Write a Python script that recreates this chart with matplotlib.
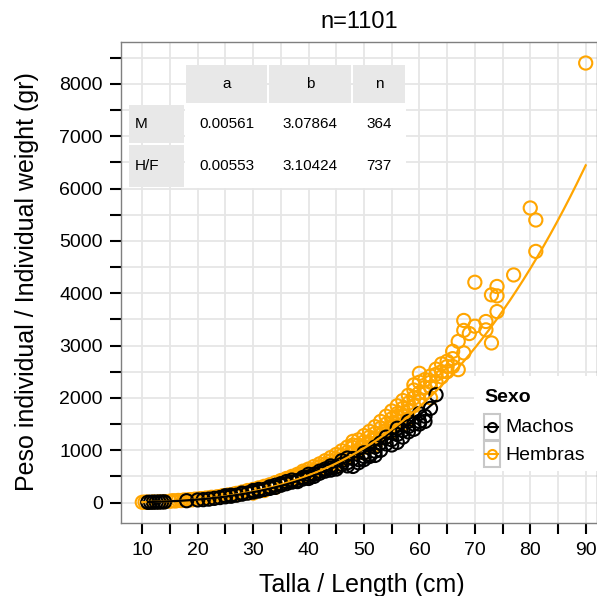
import numpy as np
import matplotlib
matplotlib.use("Agg")
import matplotlib.pyplot as plt
from matplotlib.patches import Rectangle
from matplotlib.lines import Line2D

plt.rcParams['font.family'] = ['Liberation Sans', 'DejaVu Sans']

# fitted W = a * L^b parameters (from the inset table)
grupos = ["M", "H/F"]
param_a = [0.00561, 0.00553]
param_b = [3.07864, 3.10424]
param_n = [364, 737]

# females (Hembras): length (cm), weight (gr)
hembras_talla = [10, 10.5, 11, 12, 13, 14, 15, 16, 17, 18, 19, 20, 21, 22, 23, 24, 25, 26,
                 27, 27, 28, 29, 29, 30, 30, 31, 31, 32, 32, 33, 33, 34, 34, 35, 35, 36, 36,
                 37, 37, 38, 38, 39, 39, 40, 40, 40, 41, 41, 42, 42, 43, 43, 44, 44, 45, 45,
                 45, 46, 46, 47, 47, 48, 48, 48, 49, 49, 50, 50, 50, 51, 51, 52, 52, 52, 53,
                 53, 54, 54, 54, 55, 55, 55, 56, 56, 56, 57, 57, 57, 58, 58, 58, 59, 59, 59,
                 60, 60, 60, 61, 61, 62, 62, 62, 63, 63, 64, 64, 65, 65, 66, 66, 67, 67, 68,
                 68, 68, 69, 70, 70, 72, 72, 73, 73, 74, 74, 74, 77, 80, 81, 81, 90,
                 28, 30, 32, 34, 35, 36, 37, 38, 39, 40, 41, 42, 43, 44, 45, 46, 47, 48,
                 49, 50, 51, 52, 53, 54, 55, 56, 57, 58, 59, 60, 61, 62, 63, 64, 65, 66,
                 27.5, 29.5, 31.5, 33.5, 35.5, 37.5, 39.5, 41.5, 43.5, 45.5, 47.5, 49.5, 51.5, 53.5, 55.5,
                 15.5, 16.5, 17.5, 18.5, 19.5, 20.5, 21.5, 22.5, 23.5, 24.5, 25.5, 26.5]
hembras_peso = [5, 8, 9, 12, 15, 18, 25, 30, 38, 45, 52, 62, 72, 82, 95, 110, 125, 140,
                150, 175, 175, 190, 230, 210, 250, 240, 280, 260, 310, 290, 340, 320, 380, 350, 420, 390, 460,
                420, 500, 460, 540, 500, 600, 530, 640, 480, 580, 690, 620, 740, 670, 800, 720, 860, 760, 920,
                690, 820, 990, 880, 1060, 940, 1170, 1050, 1000, 1200, 1060, 1280, 950, 1130, 1360, 1200, 1450, 1100, 1290,
                1550, 1380, 1650, 1250, 1450, 1750, 1350, 1550, 1850, 1700, 1650, 1950, 1500, 1750, 2050, 1600, 1850, 2150, 2250,
                1950, 2300, 2470, 2100, 2350, 2200, 2420, 2000, 2300, 2550, 2400, 2650, 2500, 2700, 2600, 2890, 2540, 3080, 2860,
                3290, 3480, 3230, 3370, 4210, 3460, 3300, 3050, 3970, 3950, 4130, 3650, 4350, 5630, 5400, 4800, 8400,
                200, 180, 230, 290, 380, 430, 470, 500, 560, 580, 620, 680, 730, 790, 840, 900, 960, 1100,
                1100, 1160, 1250, 1320, 1420, 1500, 1600, 1650, 1800, 1900, 2000, 2100, 2200, 2300, 2450, 2500, 2600, 2750,
                165, 205, 250, 300, 370, 450, 540, 620, 720, 820, 930, 1050, 1200, 1350, 1500,
                35, 40, 48, 55, 65, 75, 85, 100, 110, 130, 145, 160]

# males (Machos)
machos_talla = [11, 11.5, 12, 12.5, 13, 13.5, 14, 18, 20, 21, 22, 23, 24, 25, 25, 26, 27, 28,
                29, 30, 31, 32, 33, 33, 34, 35, 36, 36, 37, 38, 39, 40, 40, 41, 42, 42, 43,
                44, 44, 45, 46, 46, 47, 48, 48, 49, 50, 50, 51, 52, 52, 53, 54, 54, 55, 56,
                56, 57, 58, 58, 59, 60, 60, 61, 62, 63,
                38, 40, 41, 43, 45, 47, 49, 50, 51, 52, 53, 55, 56, 57, 58, 59, 60, 61,
                26, 28, 30, 31, 34, 35, 37, 39, 44, 47]
machos_peso = [4, 6, 7, 8, 9, 11, 12, 35, 50, 55, 65, 80, 95, 110, 130, 120, 140, 160,
               180, 200, 220, 250, 270, 300, 290, 330, 360, 400, 390, 420, 450, 490, 540, 500, 560, 600, 600,
               620, 700, 680, 730, 800, 760, 690, 840, 820, 880, 950, 920, 980, 1060, 1140, 1120, 1250, 1200, 1300,
               1420, 1380, 1450, 1550, 1500, 1550, 1700, 1650, 1800, 2060,
               400, 460, 540, 640, 640, 700, 760, 820, 880, 900, 1000, 1100, 1150, 1250, 1350, 1400, 1500, 1550,
               140, 180, 230, 250, 330, 360, 430, 480, 660, 850]

naranja = "#FFA500"
W, H = 597, 596

fig = plt.figure(figsize=(W / 100, H / 100), dpi=100)
ax = fig.add_axes([121 / W, (H - 523) / H, 476 / W, 481 / H])

ax.scatter(hembras_talla, hembras_peso, s=90, facecolors="none", edgecolors=naranja,
           linewidths=1.5, zorder=3)
ax.scatter(machos_talla, machos_peso, s=90, facecolors="none", edgecolors="black",
           linewidths=1.5, zorder=4)

lm = np.linspace(min(machos_talla), max(machos_talla), 200)
lh = np.linspace(min(hembras_talla), max(hembras_talla), 200)
ax.plot(lh, param_a[1] * lh ** param_b[1], color=naranja, lw=1.6, zorder=5)
ax.plot(lm, param_a[0] * lm ** param_b[0], color="black", lw=1.6, zorder=5)

ax.set_xlim(6.16, 92.04)
ax.set_ylim(-391, 8802)
ax.set_xticks(np.arange(10, 91, 5))
ax.set_xticklabels([str(v) if v % 10 == 0 else "" for v in range(10, 91, 5)])
ax.set_yticks(np.arange(0, 8501, 500))
ax.set_yticklabels([str(v) if v % 1000 == 0 else "" for v in range(0, 8501, 500)])
ax.tick_params(length=8, width=1.5, labelsize=14, direction="out", colors="black")
ax.tick_params(axis="x", pad=6)
ax.tick_params(axis="y", pad=5)
ax.grid(True, color="#e6e6e6", lw=1.3, zorder=0)
ax.set_axisbelow(True)
for s in ax.spines.values():
    s.set_color("#7f7f7f")
    s.set_linewidth(1.0)

ax.set_title("n=1101", fontsize=17, pad=10)
fig.text(362 / W, 4 / H, "Talla / Length (cm)", fontsize=18, ha="center", va="baseline")
fig.text(27 / W, 1 - 282 / H, "Peso individual / Individual weight (gr)", fontsize=18,
         rotation=90, ha="center", va="center")


def rect(x0, y0, x1, y1, **kw):
    r = Rectangle((x0 / W, 1 - y1 / H), (x1 - x0) / W, (y1 - y0) / H,
                  transform=fig.transFigure, **kw)
    fig.add_artist(r)


def txt(x, y, s, **kw):
    fig.text(x / W, 1 - y / H, s, transform=fig.transFigure, **kw)


# inset table
rect(185, 103, 406, 188, facecolor="white", edgecolor="none")
cols = [(186, 267), (269, 351), (353, 405)]
for (x0, x1), lab in zip(cols, ["a", "b", "n"]):
    rect(x0, 65, x1, 102.7, facecolor="#e8e8e8", edgecolor="none")
    txt((x0 + x1) / 2, 84, lab, fontsize=11, ha="center", va="center")
filas = [(105.3, 142.7), (145, 186.7)]
for i, (y0, y1) in enumerate(filas):
    rect(129.3, y0, 184, y1, facecolor="#e8e8e8", edgecolor="none")
    yc = (y0 + y1) / 2
    txt(135, yc, grupos[i], fontsize=11, ha="left", va="center")
    valores = ["%.5f" % param_a[i], "%.5f" % param_b[i], str(param_n[i])]
    for (x0, x1), v in zip(cols, valores):
        txt((x0 + x1) / 2, yc, v, fontsize=11, ha="center", va="center")

# legend
rect(474, 376, 597, 471, facecolor="white", edgecolor="none")
txt(484, 397, "Sexo", fontsize=14, fontweight="bold", ha="left", va="center")
for i, (lab, col) in enumerate([("Machos", "black"), ("Hembras", naranja)]):
    y0 = 414 + i * 27
    rect(483.5, y0, 500, y0 + 26, facecolor="white", edgecolor="#c8c8c8", lw=1.5)
    yc = 1 - (y0 + 13) / H
    fig.add_artist(Line2D([485.5 / W, 498 / W], [yc, yc], color=col, lw=1.5,
                          transform=fig.transFigure))
    fig.add_artist(Line2D([491.75 / W], [yc], marker="o", markersize=6.5, mfc="none",
                          mec=col, mew=1.5, transform=fig.transFigure))
    txt(505, y0 + 14, lab, fontsize=14, ha="left", va="center")

fig.savefig("out.png", dpi=100)
